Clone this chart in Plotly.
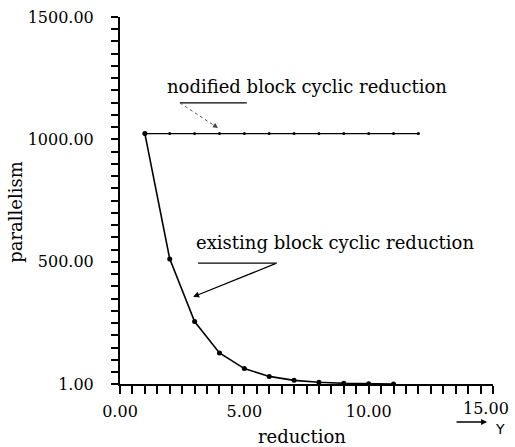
import plotly.graph_objects as go

# data
flat_x = [1, 2, 3, 4, 5, 6, 7, 8, 9, 10, 11, 12]
flat_y = [1024] * 12
decay_x = [1, 2, 3, 4, 5, 6, 7, 8, 9, 10, 11]
decay_y = [1024, 512, 256, 128, 64, 32, 16, 8, 4, 2, 1]
x_ticks = [0, 5, 10, 15]
x_tick_text = ["0.00", "5.00", "10.00", ""]
last_x_label = "15.00"
y_ticks = [1, 500, 1000, 1500]
y_tick_text = ["1.00", "500.00", "1000.00", "1500.00"]

FONT = "DejaVu Serif"
fig = go.Figure()
fig.add_trace(go.Scatter(x=flat_x, y=flat_y, mode="lines+markers",
                         line=dict(color="black", width=1.3),
                         marker=dict(color="black", size=3), showlegend=False))
fig.add_trace(go.Scatter(x=decay_x, y=decay_y, mode="lines+markers",
                         line=dict(color="black", width=1.6),
                         marker=dict(color="black", size=5), showlegend=False))

# leader lines
fig.add_shape(type="line", xref="x", yref="y", x0=2.41, x1=5.1, y0=1149, y1=1149,
              line=dict(color="black", width=1.2))
fig.add_shape(type="line", xref="x", yref="y", x0=2.41, x1=3.8, y0=1149, y1=1056,
              line=dict(color="#555", width=1, dash="dot"))
fig.add_annotation(x=3.94, y=1047, ax=3.7, ay=1063, xref="x", yref="y", axref="x", ayref="y",
                   showarrow=True, arrowhead=2, arrowsize=1, arrowwidth=1, arrowcolor="#444", text="")
fig.add_shape(type="line", xref="x", yref="y", x0=3.14, x1=6.31, y0=495, y1=495,
              line=dict(color="black", width=1.2))
fig.add_annotation(x=2.94, y=357, ax=6.31, ay=495, xref="x", yref="y", axref="x", ayref="y",
                   showarrow=True, arrowhead=2, arrowsize=1, arrowwidth=1.2, arrowcolor="black", text="")

fig.add_annotation(x=7.51, y=1215, xref="x", yref="y", text="nodified block cyclic reduction",
                   showarrow=False, font=dict(family=FONT, size=18, color="black"))
fig.add_annotation(x=8.64, y=577, xref="x", yref="y", text="existing block cyclic reduction",
                   showarrow=False, font=dict(family=FONT, size=18, color="black"))

# last x tick label (shifted left as in the reference)
fig.add_annotation(x=15, y=-0.0654, xref="x", yref="paper", xanchor="right", yanchor="middle",
                   xshift=18, text=last_x_label, showarrow=False,
                   font=dict(family=FONT, size=16, color="black"))

# axis titles
fig.add_annotation(x=-0.279, y=0.469, xref="paper", yref="paper", xanchor="center", yanchor="middle",
                   text="parallelism", textangle=-90,
                   showarrow=False, font=dict(family=FONT, size=18, color="black"))
fig.add_annotation(x=0.4866, y=-0.144, xref="paper", yref="paper", xanchor="center", yanchor="middle",
                   text="reduction",
                   showarrow=False, font=dict(family=FONT, size=18, color="black"))
fig.add_annotation(x=1.019, y=-0.1226, xref="paper", yref="paper", xanchor="center", yanchor="middle",
                   text="Y", showarrow=False, font=dict(family="DejaVu Sans", size=14, color="black"))
fig.add_annotation(x=0.984, y=-0.1035, ax=-32, ay=0, xref="paper", yref="paper",
                   showarrow=True, arrowhead=2, arrowsize=0.8, arrowwidth=1.5, arrowcolor="black", text="")

fig.update_xaxes(range=[0, 15], tickvals=x_ticks, ticktext=x_tick_text, automargin=False,
                 showline=True, linecolor="black", linewidth=2, ticks="outside", ticklen=8,
                 tickwidth=1.5, tickcolor="black", showgrid=False, zeroline=False,
                 ticklabelstandoff=4, ticklabeloverflow="allow",
                 minor=dict(dtick=0.5, tick0=0, ticks="outside", ticklen=8, tickwidth=1.5,
                            tickcolor="black", showgrid=False),
                 tickfont=dict(family=FONT, size=16, color="black"))
fig.update_yaxes(range=[1, 1500], tickvals=y_ticks, ticktext=y_tick_text, automargin=False,
                 showline=True, linecolor="black", linewidth=2, ticks="outside", ticklen=7,
                 tickwidth=1.5, tickcolor="black", showgrid=False, zeroline=False,
                 ticklabelstandoff=14, ticklabeloverflow="allow",
                 minor=dict(dtick=50, tick0=0, ticks="outside", ticklen=7, tickwidth=1.5,
                            tickcolor="black", showgrid=False),
                 tickfont=dict(family=FONT, size=16, color="black"))
fig.update_layout(width=515, height=447, margin=dict(l=120, r=22, t=17, b=63),
                  plot_bgcolor="white", paper_bgcolor="white", showlegend=False)
fig.write_html("out.html", config={"displayModeBar": False},
               post_script="document.body.style.margin='0';document.body.style.overflow='hidden';")
